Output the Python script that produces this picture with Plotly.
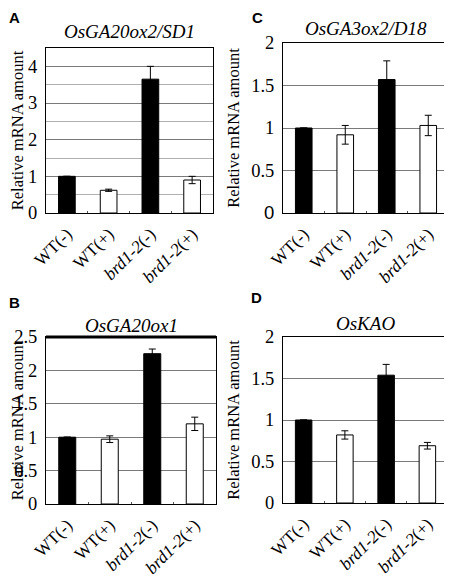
import plotly.graph_objects as go

categories = ["WT(-)", "WT(+)", "brd1-2(-)", "brd1-2(+)"]
tick_labels = ["WT(-)", "WT(+)", "<i>brd1-2</i>(-)", "<i>brd1-2</i>(+)"]
bar_colors = ["black", "white", "black", "white"]

titles = ["OsGA20ox2/SD1", "OsGA3ox2/D18", "OsGA20ox1", "OsKAO"]
letters = ["A", "C", "B", "D"]

vals_A = [1.0, 0.62, 3.65, 0.90]
err_A = [0.0, 0.03, 0.35, 0.10]
vals_C = [1.0, 0.92, 1.57, 1.03]
err_C = [0.0, 0.11, 0.22, 0.12]
vals_B = [1.0, 0.97, 2.25, 1.20]
err_B = [0.0, 0.05, 0.07, 0.10]
vals_D = [1.0, 0.82, 1.54, 0.69]
err_D = [0.0, 0.05, 0.13, 0.04]

ytick_A = [0, 1, 2, 3, 4]
ytick_C = [0, 0.5, 1, 1.5, 2]
ytick_B = [0, 0.5, 1, 1.5, 2, 2.5]
ytick_D = [0, 0.5, 1, 1.5, 2]

OFF = 8  # page body margin
W, H = 452 - OFF, 578 - OFF
# plot areas in reference pixels: x0, x1, y0(top), y1(bottom)
boxes = [(46, 213, 48, 213), (283, 449, 43, 213), (46, 216, 337, 504), (283, 448, 337, 503)]
# letter anchor: (left x, top y) in reference pixels
letter_pos = [(8, 8), (251, 8), (8, 293), (250, 288)]
title_y = [31, 28, 325, 323]
ranges = [4.5, 2, 2.5, 2]
yticks = [ytick_A, ytick_C, ytick_B, ytick_D]
data = [(vals_A, err_A), (vals_C, err_C), (vals_B, err_B), (vals_D, err_D)]

fig = go.Figure()
serif = "Times New Roman"


def px(x):
    return (x - OFF) / W


def py(y):
    return 1 - (y - OFF) / H


def fmt(v):
    return str(int(v)) if float(v).is_integer() else str(v)


for i, ((vals, errs), (x0, x1, y0, y1)) in enumerate(zip(data, boxes)):
    n = "" if i == 0 else str(i + 1)
    fig.add_trace(go.Bar(
        x=categories, y=vals, width=0.4,
        marker=dict(color=bar_colors, line=dict(color="black", width=1)),
        error_y=dict(type="data", array=errs, color="black", thickness=1, width=3.5, visible=True),
        xaxis="x" + n, yaxis="y" + n, showlegend=False,
    ))
    xd = [px(x0), min(px(x1), 1)]
    yd = [py(y1), py(y0)]
    ytext = [fmt(v) for v in yticks[i]]
    if i == 1:
        ytext[0] = '<span style="font-family:Arial">0</span>'
    xa = dict(domain=xd, anchor="y" + n, type="category", automargin=False,
              tickvals=categories, ticktext=tick_labels, tickangle=-45,
              tickfont=dict(family=serif, size=17.5, color="black"),
              showline=True, linecolor="black", linewidth=1, mirror=True,
              ticks="inside", tickson="boundaries", ticklen=2, tickcolor="#555",
              ticklabelstandoff=3,
              showgrid=False, range=[-0.5, 3.5])
    ya = dict(domain=yd, anchor="x" + n, range=[0, ranges[i]], automargin=False,
              tickvals=yticks[i], ticktext=ytext,
              tickfont=dict(family=serif, size=18.5, color="black"),
              showline=True, linecolor="black", linewidth=1, mirror=True,
              ticks="", ticklabelstandoff=4,
              showgrid=True, gridcolor="#7a7a7a", gridwidth=1, zeroline=False,
              title=dict(text="Relative mRNA amount", font=dict(family=serif, size=16.5, color="black"), standoff=7))
    if i == 0:
        ya["minor"] = dict(dtick=0.5, showgrid=True, gridcolor="#b0b0b0", gridwidth=1)
    fig.update_layout(**{"xaxis" + n: xa, "yaxis" + n: ya})
    # title
    fig.add_annotation(x=px((x0 + x1) / 2), y=py(title_y[i]), xref="paper", yref="paper",
                       xanchor="center", yanchor="middle",
                       text="<i>" + titles[i] + "</i>", showarrow=False,
                       font=dict(family=serif, size=19, color="black"))
    lx, ly = letter_pos[i]
    fig.add_annotation(x=px(lx), y=py(ly), xref="paper", yref="paper",
                       xanchor="left", yanchor="top", borderpad=0,
                       text="<b>" + letters[i] + "</b>", showarrow=False,
                       font=dict(family="Arial", size=15, color="black"))

# thick top border on panel B
fig.add_shape(type="line", xref="x3 domain", yref="y3 domain", x0=0, x1=1, y0=1, y1=1,
              line=dict(color="black", width=3))

fig.update_layout(width=W, height=H, margin=dict(l=0, r=0, t=0, b=0),
                  font=dict(family=serif, color="black"),
                  plot_bgcolor="white", paper_bgcolor="white")
fig.write_html("out.html")
